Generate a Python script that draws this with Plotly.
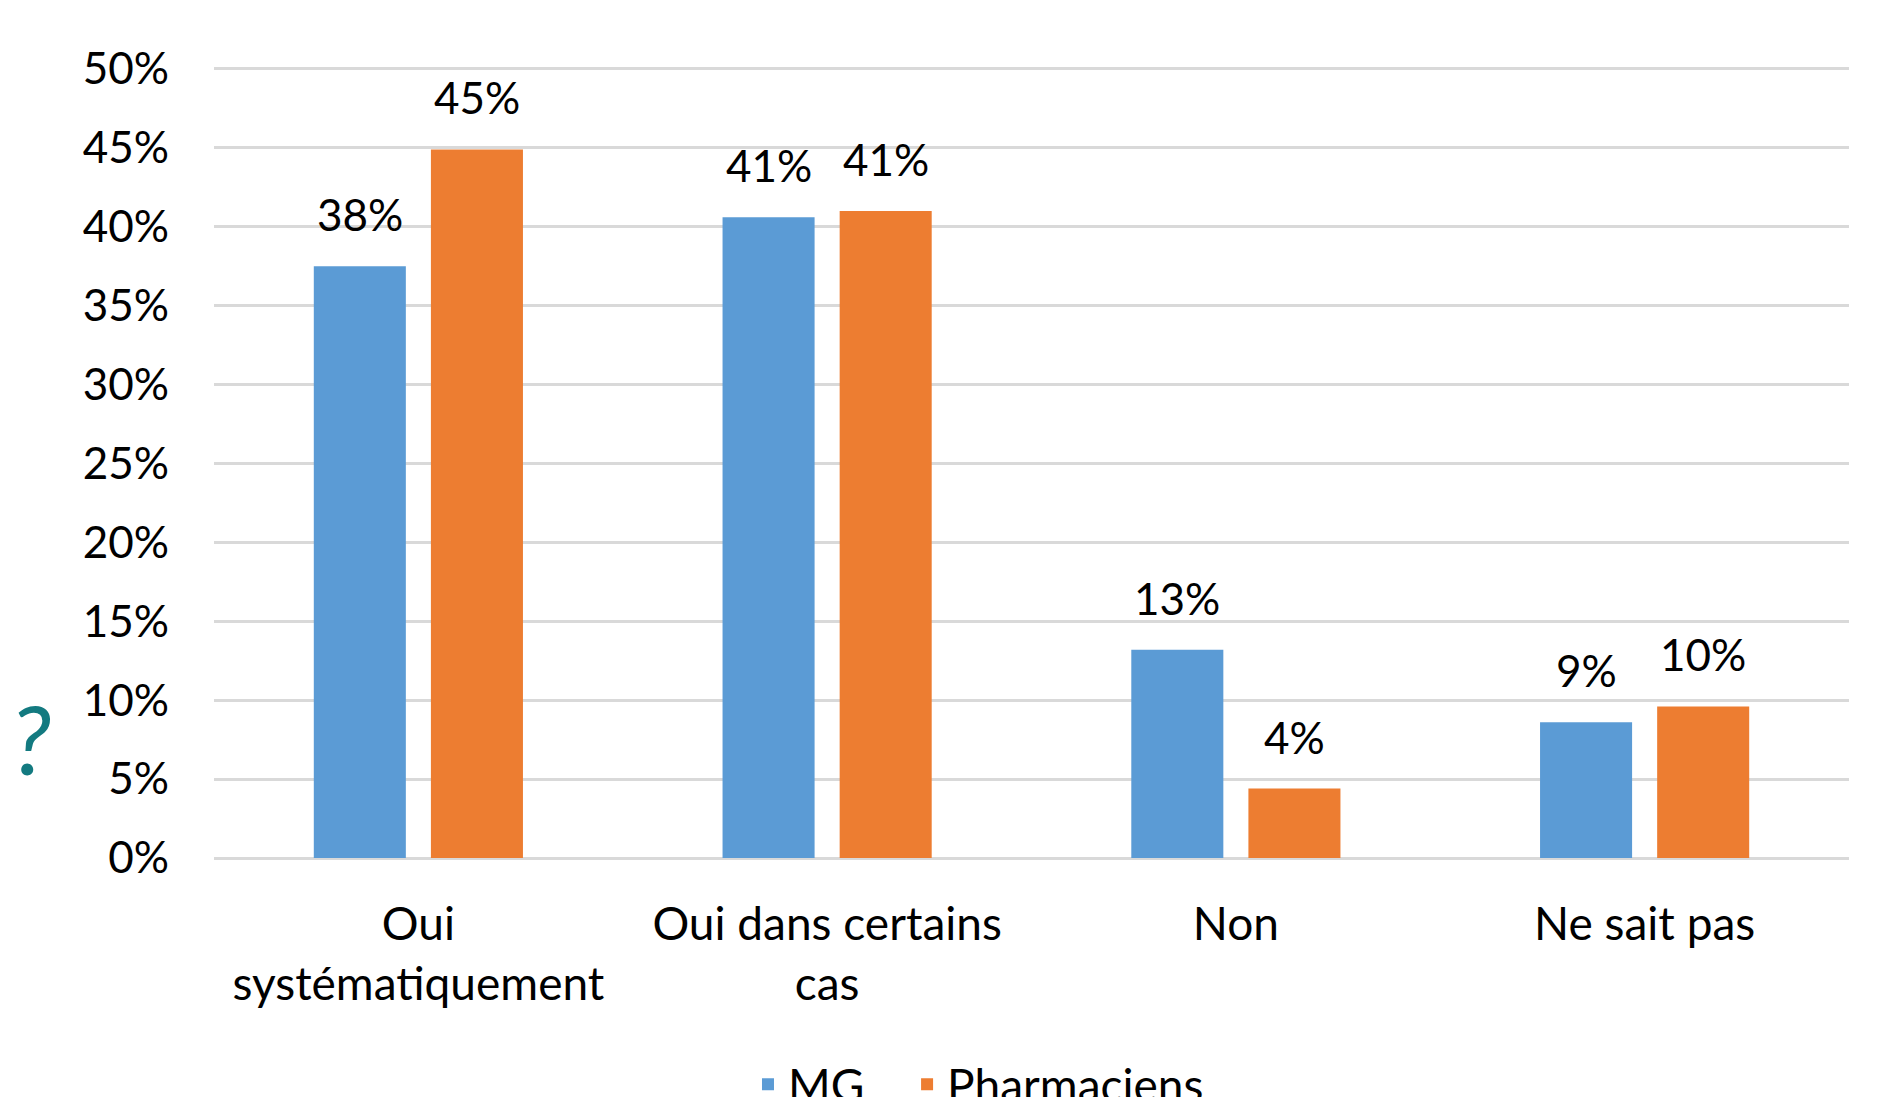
import plotly.graph_objects as go

categories = ["Oui<br>systématiquement", "Oui dans certains<br>cas", "Non", "Ne sait pas"]
mg_values = [0.375, 0.406, 0.132, 0.086]
pharm_values = [0.449, 0.410, 0.044, 0.096]
mg_labels = ["38%", "41%", "13%", "9%"]
pharm_labels = ["45%", "41%", "4%", "10%"]
series_names = ["MG", "Pharmaciens"]

BLUE = "#5B9BD5"
ORANGE = "#ED7D31"
FONT = "Lato"
FS_NUM = 44
FS_TXT = 46

fig = go.Figure()
fig.add_trace(go.Bar(x=categories, y=mg_values, name=series_names[0], legend="legend",
                     marker=dict(color=BLUE, line=dict(width=0))))
fig.add_trace(go.Bar(x=categories, y=pharm_values, name=series_names[1], legend="legend2",
                     marker=dict(color=ORANGE, line=dict(width=0))))

annotations = []
for cat, v, lab in zip(categories, mg_values, mg_labels):
    annotations.append(dict(x=cat, y=v, xref="x", yref="y", text=lab, showarrow=False,
                            xshift=-58.5, yshift=24, yanchor="bottom",
                            font=dict(family=FONT, size=FS_NUM, color="black")))
for cat, v, lab in zip(categories, pharm_values, pharm_labels):
    annotations.append(dict(x=cat, y=v, xref="x", yref="y", text=lab, showarrow=False,
                            xshift=58.5, yshift=24, yanchor="bottom",
                            font=dict(family=FONT, size=FS_NUM, color="black")))
annotations.append(dict(x=-0.1255, y=0.152, xref="paper", yref="paper", text="?",
                        showarrow=False, xanchor="left", yanchor="middle",
                        font=dict(family="Lato", size=96, color="#137A80", style="italic")))

legend_common = dict(orientation="h", xanchor="left", y=-0.286, yanchor="middle",
                     font=dict(family=FONT, size=FS_TXT, color="black"),
                     bgcolor="rgba(0,0,0,0)")

fig.update_layout(
    width=1888, height=1089,
    margin=dict(l=206, r=47, t=59, b=239, autoexpand=False),
    paper_bgcolor="white", plot_bgcolor="white",
    barmode="group", bargap=0.427, bargroupgap=0.214,
    font=dict(family=FONT, size=FS_TXT, color="black"),
    showlegend=True,
    legend=dict(x=0.3266, **legend_common),
    legend2=dict(x=0.4239, **legend_common),
    annotations=annotations,
    xaxis=dict(showgrid=False, showline=False, zeroline=False, ticks="", automargin=False,
               ticklabelstandoff=35, tickfont=dict(family=FONT, size=FS_TXT, color="black")),
    yaxis=dict(range=[0, 0.5012], dtick=0.05, tick0=0, tickformat=".0%", automargin=False,
               showgrid=True, gridcolor="#D9D9D9", gridwidth=3,
               zeroline=True, zerolinecolor="#D9D9D9", zerolinewidth=3,
               showline=False, ticks="", ticklabelstandoff=44,
               tickfont=dict(family=FONT, size=FS_NUM, color="black")),
)

fig.write_html("out.html")
